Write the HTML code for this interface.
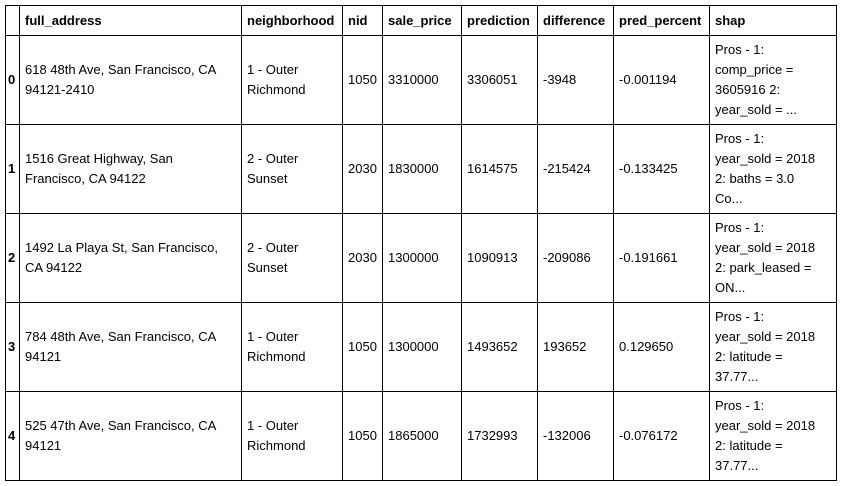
<!DOCTYPE html>
<html><head><meta charset="utf-8"><style>
body{margin:0;background:#fff;width:841px;height:486px;overflow:hidden;font-family:"Liberation Sans",Arial,sans-serif;font-size:13px;color:#000}
#t{position:absolute;left:0;top:0}
.c{position:absolute;box-sizing:border-box;border:1px solid #000;display:flex;align-items:center;padding:0 5px;line-height:20px;overflow:hidden;white-space:pre-line}
.h{font-weight:bold}
</style></head><body>
<div id="t"></div>
<script>
const colX=[5,19,241,342,382,461,537,613,709,836];
const rowY=[5,35,124,213,302,391,480];
const headers=["","full_address","neighborhood","nid","sale_price","prediction","difference","pred_percent","shap"];
const rows=[
["0","618 48th Ave, San Francisco, CA 94121-2410","1 - Outer Richmond","1050","3310000","3306051","-3948","-0.001194","Pros - 1:\ncomp_price =\n3605916 2:\nyear_sold = ..."],
["1","1516 Great Highway, San Francisco, CA 94122","2 - Outer Sunset","2030","1830000","1614575","-215424","-0.133425","Pros - 1:\nyear_sold = 2018\n2: baths = 3.0\nCo..."],
["2","1492 La Playa St, San Francisco, CA 94122","2 - Outer Sunset","2030","1300000","1090913","-209086","-0.191661","Pros - 1:\nyear_sold = 2018\n2: park_leased =\nON..."],
["3","784 48th Ave, San Francisco, CA 94121","1 - Outer Richmond","1050","1300000","1493652","193652","0.129650","Pros - 1:\nyear_sold = 2018\n2: latitude =\n37.77..."],
["4","525 47th Ave, San Francisco, CA 94121","1 - Outer Richmond","1050","1865000","1732993","-132006","-0.076172","Pros - 1:\nyear_sold = 2018\n2: latitude =\n37.77..."]
];
const t=document.getElementById('t');
function cell(r,c,txt,bold){
  const d=document.createElement('div');
  d.className='c'+(bold?' h':'');
  d.style.left=colX[c]+'px';d.style.top=rowY[r]+'px';
  d.style.width=(colX[c+1]-colX[c]+1)+'px';d.style.height=(rowY[r+1]-rowY[r]+1)+'px';
  if(c===0){d.style.padding='0 2px';}
  if(c===8){d.style.whiteSpace='pre';}
  d.textContent=txt;
  
  
  t.appendChild(d);
}
headers.forEach((h,c)=>cell(0,c,h,true));
rows.forEach((row,i)=>row.forEach((v,c)=>cell(i+1,c,v,c===0)));
</script>
</body></html>
